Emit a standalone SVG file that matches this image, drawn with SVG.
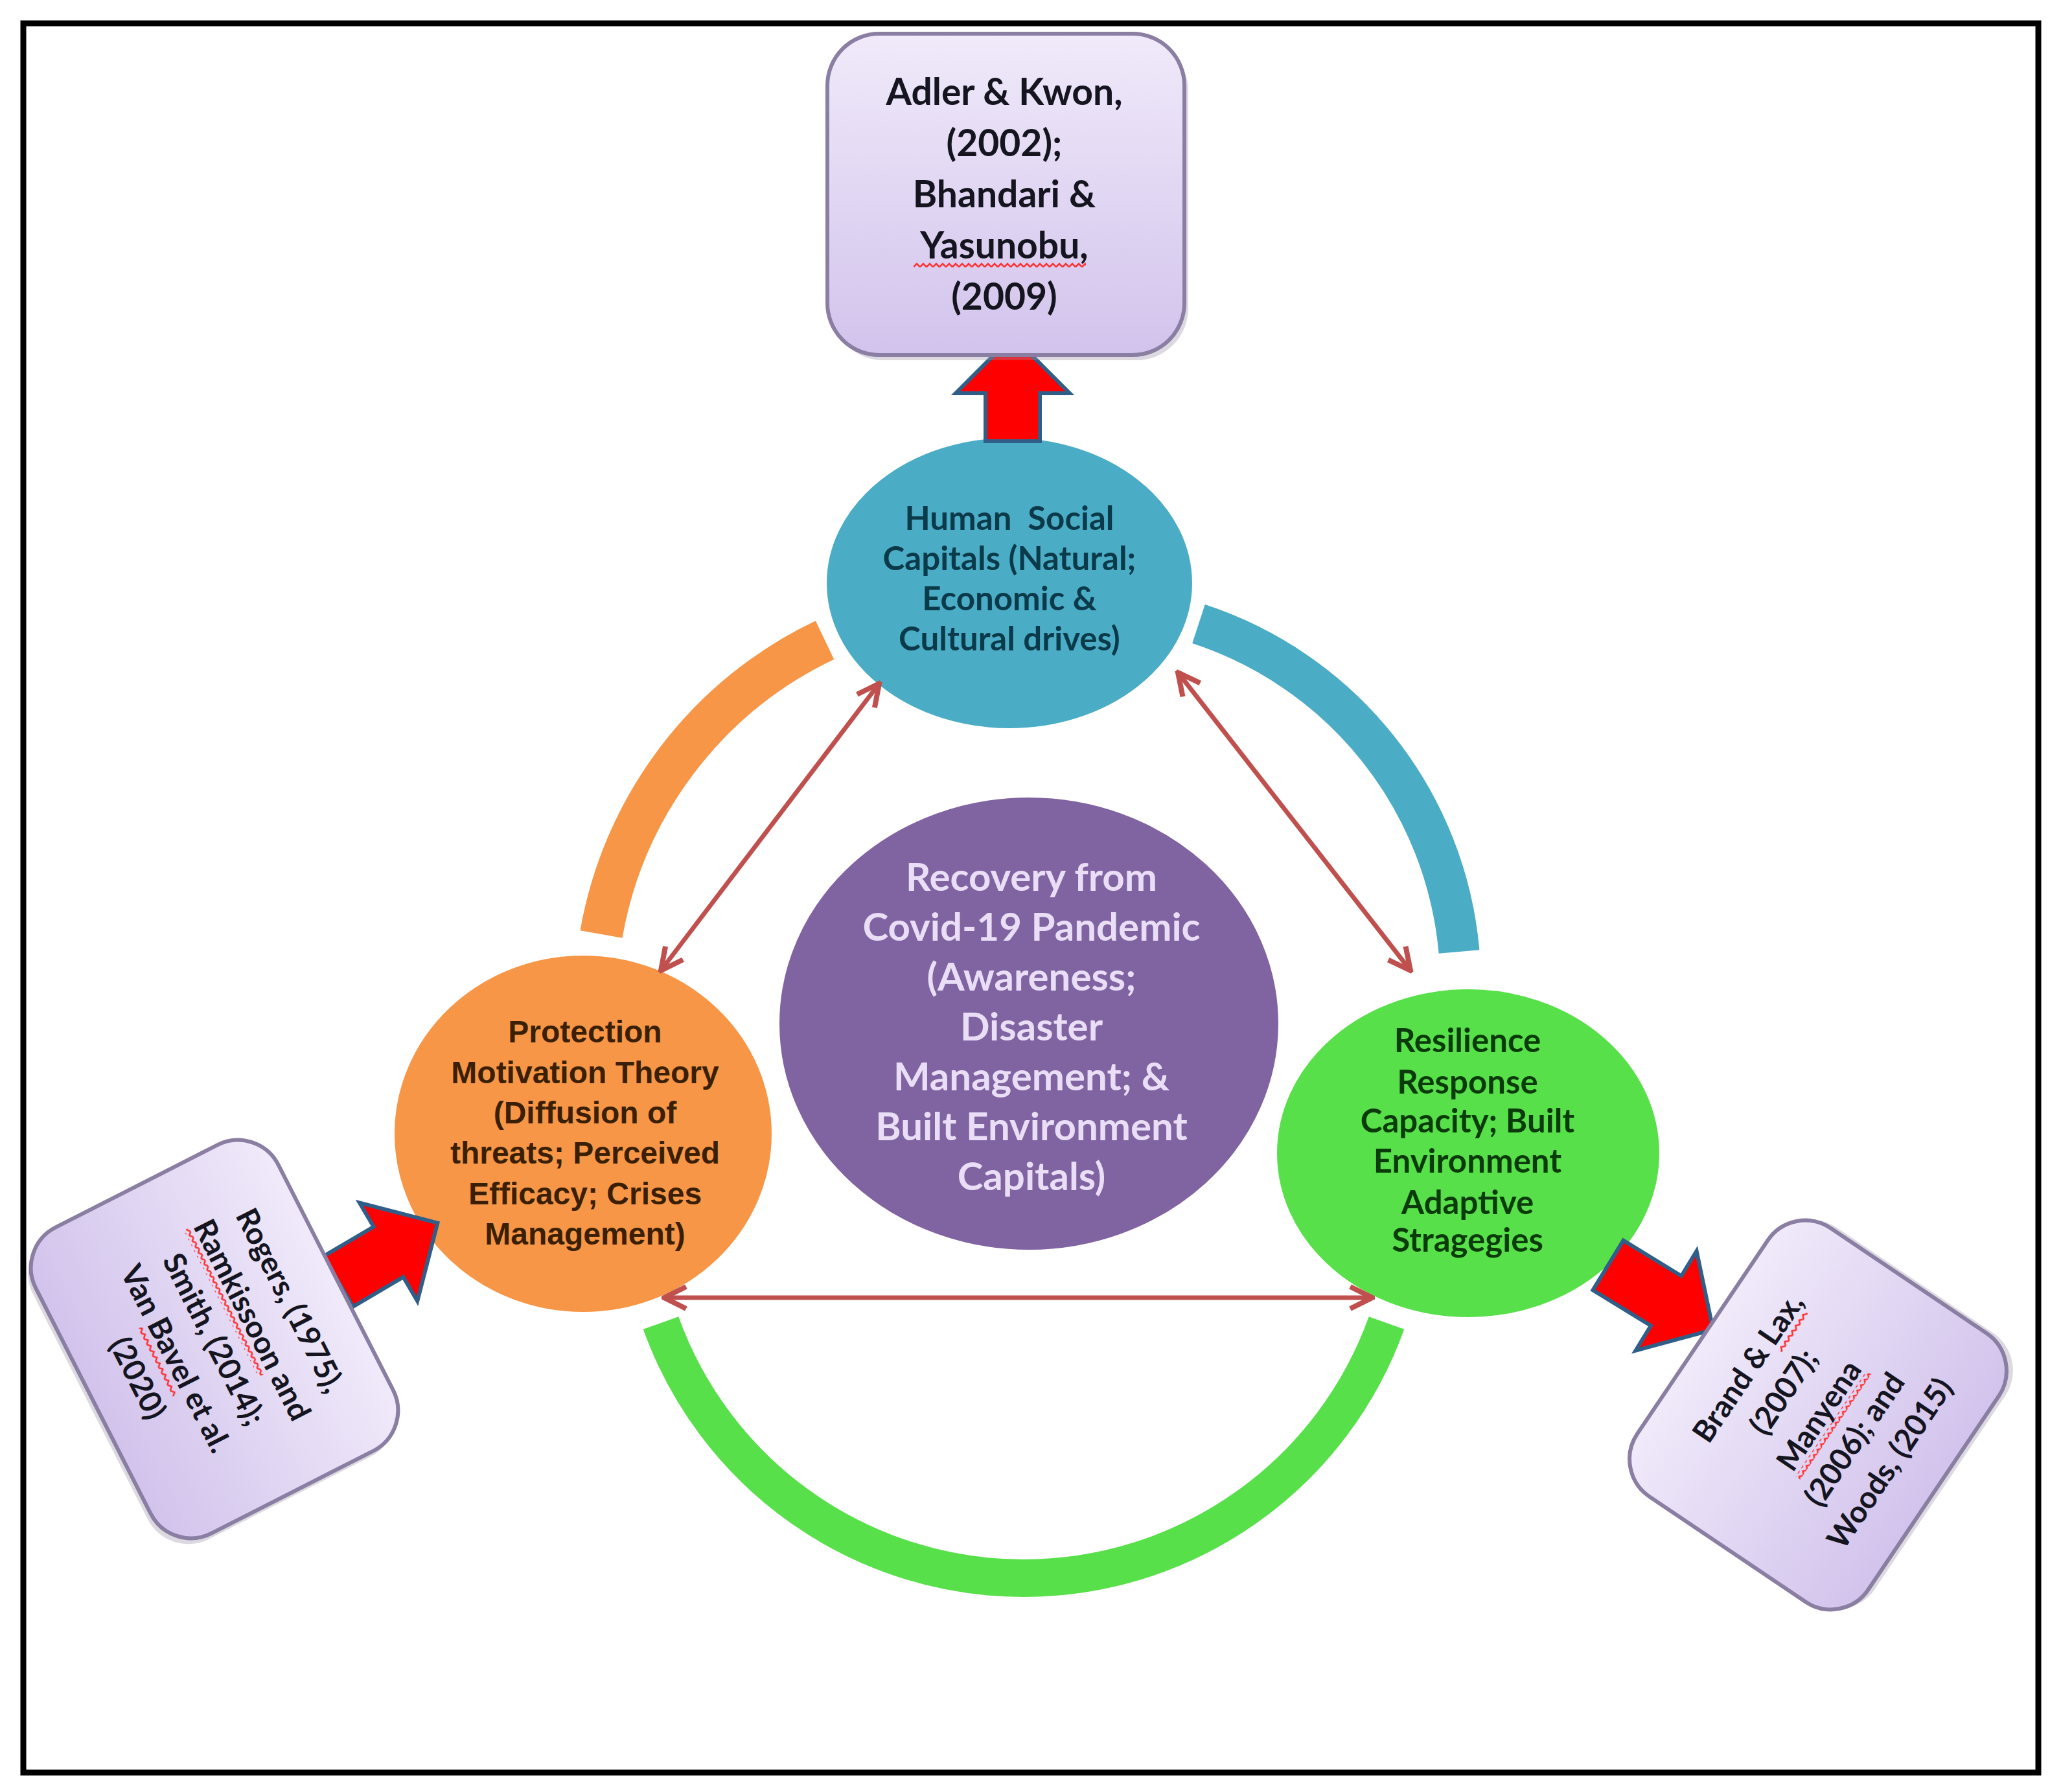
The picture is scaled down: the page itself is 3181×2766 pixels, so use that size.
<svg xmlns="http://www.w3.org/2000/svg" width="3181" height="2766" viewBox="0 0 3181 2766">
<defs>
<style>
.box{stroke:#8a7ea3;stroke-width:6;fill:url(#boxg)}
.shadow{fill:#9a93a8;opacity:0.35}
.btxt{font-family:Lato,"Liberation Sans",sans-serif;font-weight:bold;fill:#15151f;text-anchor:middle}
.ntxt{font-family:Lato,"Liberation Sans",sans-serif;font-weight:bold;text-anchor:middle}
.ptxt{font-family:"Liberation Sans",Arial,sans-serif;font-weight:bold;text-anchor:middle;fill:#3a1f02}
.ctxt{font-family:Lato,"Liberation Sans",sans-serif;font-weight:bold;text-anchor:middle;fill:#e9def6}
.arc{fill:none;stroke-linecap:butt}
.conn{stroke:#c0504d;stroke-width:7;fill:none;marker-start:url(#head);marker-end:url(#head)}
.block{fill:#ff0000;stroke:#2f5f88;stroke-width:6;stroke-linejoin:miter}
.node{stroke:#ffffff;stroke-width:6}
</style>
<linearGradient id="boxg" x1="0" y1="0" x2="0" y2="1">
<stop offset="0" stop-color="#f0eafa"/>
<stop offset="1" stop-color="#d2c3ec"/>
</linearGradient>
<marker id="head" viewBox="0 0 44 44" refX="40" refY="22" markerWidth="44" markerHeight="44" markerUnits="userSpaceOnUse" orient="auto-start-reverse">
<path d="M6 5 L40 22 L6 39" fill="none" stroke="#c0504d" stroke-width="8" stroke-linejoin="miter"/>
</marker>
<pattern id="squig" width="10" height="9" patternUnits="userSpaceOnUse">
<path d="M0 7 L5 2 L10 7" fill="none" stroke="#ff3030" stroke-width="2.5"/>
</pattern>
</defs>
<rect x="0" y="0" width="3181" height="2766" fill="#ffffff"/>
<rect id="frame" x="36" y="36" width="3110" height="2700" fill="none" stroke="#000000" stroke-width="9"/>

<g id="ring">
<path class="arc" d="M 928 1442 A 621 621 0 0 1 1273 988" stroke="#f79646" stroke-width="66"/>
<path class="arc" d="M 1850 963 A 587 587 0 0 1 2252 1469" stroke="#4bacc6" stroke-width="63"/>
<path class="arc" d="M 2140 2042 A 595 595 0 0 1 1020 2042" stroke="#58e04a" stroke-width="58"/>
</g>

<g id="node-human">
<ellipse class="node" cx="1558" cy="900" rx="285" ry="227" fill="#4bacc6"/>
<text class="ntxt" fill="#0b3a4a" font-size="51" xml:space="preserve"><tspan x="1558" y="818">Human  Social</tspan><tspan x="1558" y="880">Capitals (Natural;</tspan><tspan x="1558" y="942">Economic &amp;</tspan><tspan x="1558" y="1004">Cultural drives)</tspan></text>
</g>

<g id="node-recovery">
<ellipse class="node" cx="1588" cy="1580" rx="388" ry="352" fill="#8064a2"/>
<text class="ctxt" font-size="60"><tspan x="1592" y="1375">Recovery from</tspan><tspan x="1592" y="1452">Covid-19 Pandemic</tspan><tspan x="1592" y="1529">(Awareness;</tspan><tspan x="1592" y="1606">Disaster</tspan><tspan x="1592" y="1683">Management; &amp;</tspan><tspan x="1592" y="1760">Built Environment</tspan><tspan x="1592" y="1837">Capitals)</tspan></text>
</g>

<g id="node-protection">
<ellipse class="node" cx="900" cy="1750" rx="294" ry="278" fill="#f79646"/>
<text class="ptxt" font-size="48"><tspan x="903" y="1609">Protection</tspan><tspan x="903" y="1672">Motivation Theory</tspan><tspan x="903" y="1734">(Diffusion of</tspan><tspan x="903" y="1796">threats; Perceived</tspan><tspan x="903" y="1859">Efficacy; Crises</tspan><tspan x="903" y="1921">Management)</tspan></text>
</g>

<g id="node-resilience">
<ellipse class="node" cx="2266" cy="1780" rx="298" ry="256" fill="#58e04a"/>
<text class="ntxt" fill="#0b3b0b" font-size="51"><tspan x="2265" y="1624">Resilience</tspan><tspan x="2265" y="1688">Response</tspan><tspan x="2265" y="1748">Capacity; Built</tspan><tspan x="2265" y="1810">Environment</tspan><tspan x="2265" y="1874">Adaptive</tspan><tspan x="2265" y="1932">Stragegies</tspan></text>
</g>

<g id="connectors">
<line class="conn" x1="1357" y1="1055" x2="1020" y2="1498"/>
<line class="conn" x1="1818" y1="1038" x2="2177" y2="1498"/>
<line class="conn" x1="1025" y1="2003" x2="2118" y2="2003"/>
<path class="block" transform="translate(1563,681) rotate(-90)" d="M0,-42 L74,-42 L74,-88 L162,0 L74,88 L74,42 L0,42 Z"/>
<path class="block" transform="translate(522,1978) rotate(-30.5)" d="M0,-45 L90,-45 L90,-88 L178,0 L90,88 L90,45 L0,45 Z"/>
<path class="block" transform="translate(2482,1953) rotate(31.5)" d="M0,-45 L105,-45 L105,-90 L190,0 L105,90 L105,45 L0,45 Z"/>
</g>

<g id="box-top">
<rect class="shadow" x="1283" y="60" width="551" height="496" rx="80"/>
<rect class="box" x="1277" y="52" width="551" height="496" rx="80"/>
<text class="btxt" font-size="57"><tspan x="1550" y="162">Adler &amp; Kwon,</tspan><tspan x="1550" y="241">(2002);</tspan><tspan x="1550" y="320">Bhandari &amp;</tspan><tspan x="1550" y="399">Yasunobu,</tspan><tspan x="1550" y="478">(2009)</tspan></text>
<rect x="1410" y="404" width="266" height="9" fill="url(#squig)"/>
</g>

<g id="box-left" transform="translate(331,2067) rotate(63)">
<rect class="shadow" x="-259" y="-202" width="530" height="420" rx="70"/>
<rect class="box" x="-265" y="-210" width="530" height="420" rx="70"/>
<text class="btxt" font-size="47"><tspan x="0" y="-115">Rogers, (1975),</tspan><tspan x="0" y="-49">Ramkissoon and</tspan><tspan x="0" y="17">Smith, (2014);</tspan><tspan x="0" y="83">Van Bavel et al.</tspan><tspan x="0" y="149">(2020)</tspan></text>
<rect x="-171" y="-43" width="254" height="9" fill="url(#squig)"/>
<rect x="-68" y="89" width="118" height="9" fill="url(#squig)"/>
</g>

<g id="box-right" transform="translate(2806,2184) rotate(-56)">
<rect class="shadow" x="-244" y="-207" width="500" height="430" rx="70"/>
<rect class="box" x="-250" y="-215" width="500" height="430" rx="70"/>
<text class="btxt" font-size="47"><tspan x="0" y="-114">Brand &amp; Lax,</tspan><tspan x="0" y="-48">(2007);</tspan><tspan x="0" y="18">Manyena</tspan><tspan x="0" y="84">(2006); and</tspan><tspan x="0" y="150">Woods, (2015)</tspan></text>
<rect x="49" y="-108" width="72" height="9" fill="url(#squig)"/>
<rect x="-98" y="24" width="196" height="9" fill="url(#squig)"/>
</g>
</svg>
